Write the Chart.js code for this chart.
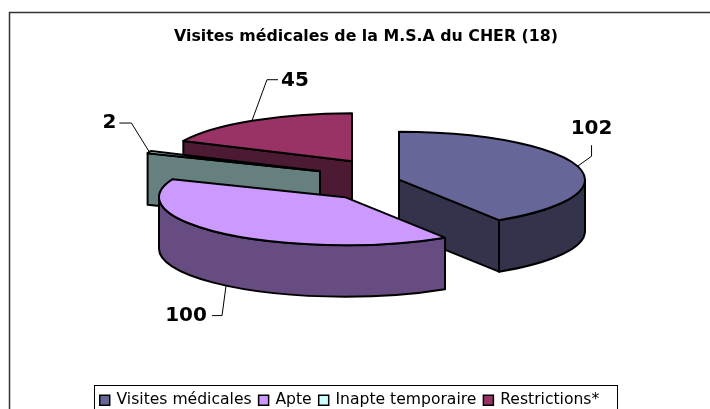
<!DOCTYPE html>
<html>
<head>
<meta charset="utf-8">
<title>Visites médicales</title>
<script src="https://cdn.jsdelivr.net/npm/chart.js@4/dist/chart.umd.min.js"></script>
<style>
html,body{margin:0;padding:0;background:#fff;overflow:hidden;width:710px;height:409px}
#wrap{position:absolute;left:0;top:0;width:710px;height:418px}
</style>
</head>
<body>
<div id="wrap"><canvas id="pie"></canvas></div>
<script>
// data
let categories=['Visites médicales','Apte','Inapte temporaire','Restrictions*'];
let visites=[102,100,2,45];
let chartTitle='Visites médicales de la M.S.A du CHER (18)';

// colours
let topColors=['#666699','#CC99FF','#CCFFFF','#993366'];
let sideColors=['#33334C','#664C80','#668080','#4D1A33'];

// look of the fake 3d pie
const tilt=48/186;
const depth=51.5;
const radius=186;
const paintOrder=[3,2,0,1];
// how far each slice is pulled out of the pie, px from the chart centre
const explode=[[44,-40.5],[-10,-23],[-35,-49],[-3,-59]];
// elbow of each leader line + where the text goes, relative to the rim point
const leaders=[
    {elbow:[14,-10],end:[14,-21],text:[14,-37]},
    {elbow:[-4,30],end:[-14,30],text:[-40,30]},
    {elbow:[-18,-29],end:[-30,-29],text:[-40,-29]},
    {elbow:[15,-41],end:[26,-41],text:[43,-40]}
];

const pie3d={
    id:'pie3d',
    beforeDraw(chart){
        // frame runs off the right and bottom of the window, same as the source picture
        const ctx=chart.ctx;
        ctx.save();
        ctx.fillStyle='#fff';
        ctx.fillRect(0,0,chart.width,chart.height);
        ctx.strokeStyle='#333';
        ctx.lineWidth=1.5;
        ctx.strokeRect(9.5,12.5,800,460);
        ctx.restore();
    },
    afterLayout(chart){
        // title sits a bit right of centre, legend a bit left
        chart.titleBlock.left+=11;
        chart.titleBlock.right+=11;
        chart.legend.left-=5;
        chart.legend.right-=5;
    },
    beforeDatasetDraw(chart,args){
        const ctx=chart.ctx;
        const arcs=args.meta.data;
        paintOrder.forEach(i=>drawSlice(ctx,arcs[i],i));
        drawLabels(ctx,arcs);
        return false;
    },
    afterDraw(chart){
        // box round the legend
        const ctx=chart.ctx;
        ctx.save();
        ctx.strokeStyle='#000';
        ctx.lineWidth=1;
        ctx.strokeRect(94.5,385.5,523,40);
        ctx.restore();
    }
};

function ptOn(arc,i,a){
    return [arc.x+explode[i][0]+arc.outerRadius*Math.cos(a),
            arc.y+explode[i][1]+arc.outerRadius*tilt*Math.sin(a)];
}

function drawSlice(ctx,arc,i){
    const cx=arc.x+explode[i][0];
    const cy=arc.y+explode[i][1];
    const r=arc.outerRadius;
    const a0=arc.startAngle;
    const a1=arc.endAngle;
    ctx.save();
    ctx.lineWidth=2;
    ctx.lineJoin='round';
    ctx.strokeStyle='#000';
    ctx.fillStyle=sideColors[i];

    // flat sides, only the ones that face us
    [[a0,-Math.cos(a0)],[a1,Math.cos(a1)]].forEach(f=>{
        if(f[1]<=0.001) return;
        const p=ptOn(arc,i,f[0]);
        ctx.beginPath();
        ctx.moveTo(cx,cy);
        ctx.lineTo(p[0],p[1]);
        ctx.lineTo(p[0],p[1]+depth);
        ctx.lineTo(cx,cy+depth);
        ctx.closePath();
        ctx.fill();
        ctx.stroke();
    });

    // outer wall, front half of the ellipse only
    for(let k=0;k<2;k++){
        const lo=Math.max(a0,k*2*Math.PI);
        const hi=Math.min(a1,k*2*Math.PI+Math.PI);
        if(hi<=lo) continue;
        const p=ptOn(arc,i,hi);
        ctx.beginPath();
        ctx.ellipse(cx,cy,r,r*tilt,0,lo,hi);
        ctx.lineTo(p[0],p[1]+depth);
        ctx.ellipse(cx,cy+depth,r,r*tilt,0,hi,lo,true);
        ctx.closePath();
        ctx.fill();
        ctx.stroke();
    }

    // top face is the library's own arc, squashed
    ctx.save();
    ctx.translate(cx,cy);
    ctx.scale(1,tilt);
    ctx.translate(-arc.x,-arc.y);
    arc.draw(ctx);
    ctx.restore();

    ctx.beginPath();
    ctx.moveTo(cx,cy);
    ctx.ellipse(cx,cy,r,r*tilt,0,a0,a1);
    ctx.closePath();
    ctx.stroke();
    ctx.restore();
}

function drawLabels(ctx,arcs){
    ctx.save();
    ctx.font='bold 20px "DejaVu Sans"';
    ctx.textAlign='center';
    ctx.textBaseline='middle';
    ctx.fillStyle='#000';
    ctx.strokeStyle='#000';
    ctx.lineWidth=1;
    arcs.forEach((arc,i)=>{
        const mid=(arc.startAngle+arc.endAngle)/2;
        const p=ptOn(arc,i,mid);
        // the front slice starts its leader on the bottom edge
        if(Math.sin(mid)>0 && Math.cos(mid)<0) p[1]+=depth;
        const l=leaders[i];
        ctx.beginPath();
        ctx.moveTo(p[0],p[1]);
        ctx.lineTo(p[0]+l.elbow[0],p[1]+l.elbow[1]);
        ctx.lineTo(p[0]+l.end[0],p[1]+l.end[1]);
        ctx.stroke();
        ctx.fillText(String(visites[i]),p[0]+l.text[0],p[1]+l.text[1]);
    });
    ctx.restore();
}

new Chart(document.getElementById('pie').getContext('2d'),{
    type:'pie',
    data:{
        labels:categories,
        datasets:[{
            data:visites,
            backgroundColor:topColors,
            borderWidth:0
        }]
    },
    options:{
        responsive:true,
        maintainAspectRatio:false,
        animation:false,
        radius:radius,
        plugins:{
            title:{
                display:true,
                text:chartTitle,
                color:'#000',
                font:{family:'"DejaVu Sans"',size:15.8,weight:'bold'},
                padding:{top:27,bottom:10}
            },
            legend:{
                position:'bottom',
                labels:{
                    color:'#000',
                    font:{family:'"DejaVu Sans"',size:15.6},
                    usePointStyle:true,
                    pointStyle:'rect',
                    boxWidth:8,
                    boxHeight:10,
                    padding:8,
                    generateLabels(chart){
                        return categories.map((c,i)=>({
                            text:c,
                            fillStyle:topColors[i],
                            strokeStyle:'#000',
                            lineWidth:1.5,
                            pointStyle:'rect',
                            index:i
                        }));
                    }
                }
            },
            tooltip:{enabled:false}
        }
    },
    plugins:[pie3d]
});
</script>
</body>
</html>
